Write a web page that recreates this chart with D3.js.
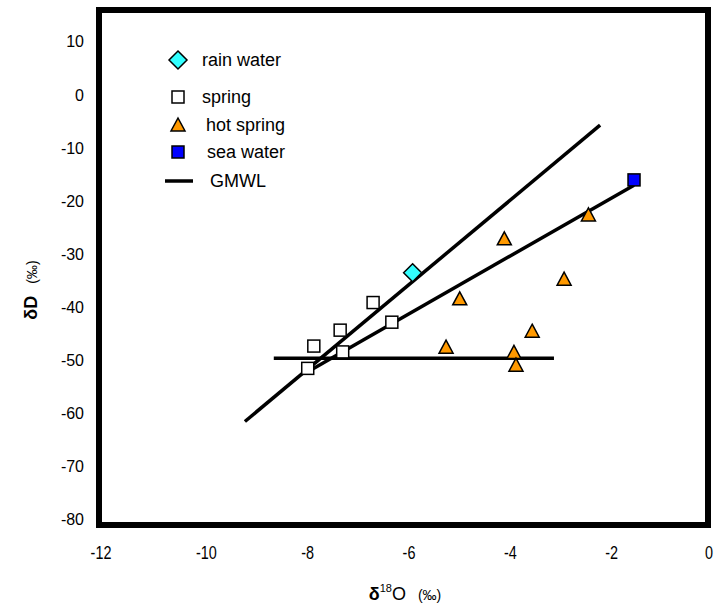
<!DOCTYPE html>
<html><head><meta charset="utf-8">
<script src="https://cdn.jsdelivr.net/npm/d3@7"></script>
<style>
body{margin:0;background:#fff;}
text{font-family:"Liberation Sans",Arial,sans-serif;fill:#000;}
</style></head>
<body><svg id="c" width="715" height="612"></svg>
<script>
// ---- data ----
const xTicks = [-12,-10,-8,-6,-4,-2,0];
const yTicks = [10,0,-10,-20,-30,-40,-50,-60,-70,-80];
const rainX = [-5.83];
const rainY = [-33.5];
const springX = [-6.61,-6.24,-7.26,-7.78,-7.21,-7.90];
const springY = [-39.1,-42.8,-44.3,-47.3,-48.4,-51.5];
const hotX = [-4.02,-2.36,-2.84,-4.90,-3.47,-5.17,-3.83,-3.79];
const hotY = [-27.1,-22.6,-34.7,-38.4,-44.5,-47.5,-48.5,-50.9];
const seaX = [-1.46];
const seaY = [-16.0];
const gmwlX = [-9.14,-2.13];
const gmwlY = [-61.5,-5.7];
const mixX = [-7.95,-1.46];
const mixY = [-52.4,-17.0];
const flatX = [-8.57,-3.04];
const flatY = [-49.6,-49.6];
const legendLabels = ["rain water","spring","hot spring","sea water","GMWL"];

// ---- chart ----
const svg = d3.select("#c");
const x = d3.scaleLinear().domain([-12,0]).range([100,708]);
const y = d3.scaleLinear().domain([-81,16]).range([525,10]);

// y tick labels
svg.append("g").selectAll("text").data(yTicks).join("text")
  .attr("x",84).attr("y",d=>y(d)).attr("dy","0.35em")
  .attr("text-anchor","end").style("font-size","16px").text(d=>d);
// x tick labels (condensed look)
svg.append("g").selectAll("text").data(xTicks).join("text")
  .attr("transform",d=>`translate(${x(d)+ (d===0||d===-12?1:5)},559) scale(0.8,1)`)
  .attr("text-anchor","middle").style("font-size","18px")
  .text(d=>d);

// axis titles
const xt = svg.append("text").attr("x",405).attr("y",600).attr("text-anchor","middle");
xt.append("tspan").style("font-size","18px").style("font-weight","bold").text("δ");
xt.append("tspan").style("font-size","11px").attr("dy","-8").text("18");
xt.append("tspan").style("font-size","18px").attr("dy","8").text("O");
xt.append("tspan").style("font-size","14px").attr("dx","12").text("(‰)");

const yt = svg.append("text").attr("transform","translate(37,290) rotate(-90)").attr("text-anchor","middle");
yt.append("tspan").style("font-size","18px").style("font-weight","bold").text("δD");
yt.append("tspan").style("font-size","14px").attr("dx","12").text("(‰)");

// frame
svg.append("rect").attr("x",x(-12)-1).attr("y",y(16)).attr("width",x(0)-x(-12)+1).attr("height",y(-81)-y(16))
  .attr("fill","none").attr("stroke","#000").attr("stroke-width",6);

// lines
const line = d3.line().x(d=>x(d[0])).y(d=>y(d[1]));
[[gmwlX,gmwlY],[mixX,mixY],[flatX,flatY]].forEach(([xs,ys])=>{
  svg.append("path").datum(xs.map((v,i)=>[v,ys[i]])).attr("d",line)
    .attr("fill","none").attr("stroke","#000").attr("stroke-width",3.5);
});

// marker shapes
function diamond(g,cx,cy){g.append("path").attr("d",`M${cx},${cy-9}L${cx+9},${cy}L${cx},${cy+9}L${cx-9},${cy}Z`)
  .attr("fill","#33ffff").attr("stroke","#000").attr("stroke-width",1.5);}
function square(g,cx,cy,fill){g.append("rect").attr("x",cx-6).attr("y",cy-6).attr("width",12).attr("height",12)
  .attr("fill",fill).attr("stroke","#000").attr("stroke-width",1.5);}
function tri(g,cx,cy){g.append("path").attr("d",`M${cx},${cy-7}L${cx+7},${cy+6}L${cx-7},${cy+6}Z`)
  .attr("fill","#ff9900").attr("stroke","#000").attr("stroke-width",1.5);}

const pts = svg.append("g");
springX.forEach((v,i)=>square(pts,x(v),y(springY[i]),"#fff"));
hotX.forEach((v,i)=>tri(pts,x(v),y(hotY[i])));
rainX.forEach((v,i)=>diamond(pts,x(v),y(rainY[i])));
seaX.forEach((v,i)=>square(pts,x(v),y(seaY[i]),"#0000ff"));

// legend
const lg = svg.append("g");
const ly = [60,97,125,152,181];
const lx = [202,202,206,207,210];
diamond(lg,178,ly[0]);
square(lg,178,ly[1],"#fff");
tri(lg,178,ly[2]);
square(lg,178,ly[3],"#0000ff");
lg.append("line").attr("x1",165).attr("x2",193).attr("y1",ly[4]).attr("y2",ly[4]).attr("stroke","#000").attr("stroke-width",3.5);
lg.selectAll("text").data(legendLabels).join("text")
  .attr("x",(d,i)=>lx[i]).attr("y",(d,i)=>ly[i]).attr("dy","0.35em")
  .style("font-size","18px").text(d=>d);
</script></body></html>
